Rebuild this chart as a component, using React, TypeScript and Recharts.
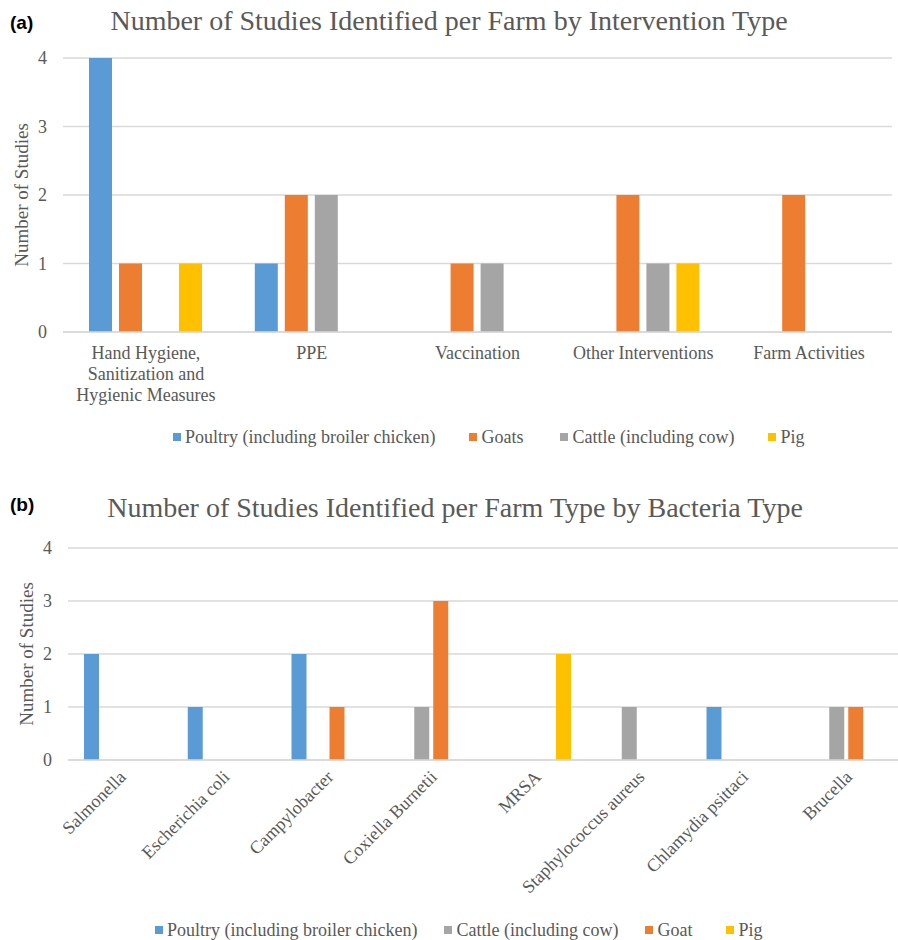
import React from "react";
import { BarChart, Bar, XAxis, YAxis, CartesianGrid, Legend, Label, Text } from "recharts";

const interventions = [
  "Hand Hygiene, Sanitization and Hygienic Measures",
  "PPE",
  "Vaccination",
  "Other Interventions",
  "Farm Activities",
];
const poultryA = [4, 1, 0, 0, 0];
const goatsA = [1, 2, 1, 2, 2];
const cattleA = [0, 2, 1, 1, 0];
const pigA = [1, 0, 0, 1, 0];

const bacteria = [
  "Salmonella",
  "Escherichia coli",
  "Campylobacter",
  "Coxiella Burnetii",
  "MRSA",
  "Staphylococcus aureus",
  "Chlamydia psittaci",
  "Brucella",
];
const poultryB = [2, 1, 2, 0, 0, 0, 1, 0];
const cattleB = [0, 0, 0, 1, 0, 1, 0, 1];
const goatB = [0, 0, 1, 3, 0, 0, 0, 1];
const pigB = [0, 0, 0, 0, 2, 0, 0, 0];

const yTicks = [0, 1, 2, 3, 4];

// series order as in each legend
const seriesA = ["poultry", "goats", "cattle", "pig"];
const seriesB = ["poultry", "cattle", "goat", "pig"];
const seriesNames: Record<string, string> = {
  poultry: "Poultry (including broiler chicken)",
  goats: "Goats",
  goat: "Goat",
  cattle: "Cattle (including cow)",
  pig: "Pig",
};

const dataA = interventions.map((name, i) => ({
  name,
  poultry: poultryA[i],
  goats: goatsA[i],
  cattle: cattleA[i],
  pig: pigA[i],
}));

const dataB = bacteria.map((name, i) => ({
  name,
  poultry: poultryB[i],
  cattle: cattleB[i],
  goat: goatB[i],
  pig: pigB[i],
}));

const COLORS: Record<string, string> = {
  poultry: "#5B9BD5",
  goats: "#ED7D31",
  goat: "#ED7D31",
  cattle: "#A5A5A5",
  pig: "#FFC000",
};
const TEXT = "#595959";
const GRID = "#D9D9D9";
const SERIF = '"Liberation Serif", "Times New Roman", serif';
const SANS = '"Liberation Sans", Arial, sans-serif';

const WrapTick = (props: any) => {
  const { x, y, payload } = props;
  return (
    <Text
      x={x}
      y={y}
      width={160}
      textAnchor="middle"
      verticalAnchor="start"
      lineHeight={21}
      fill={TEXT}
      style={{ fontSize: 18, fontFamily: SERIF }}
    >
      {payload.value}
    </Text>
  );
};

const SlantTick = (props: any) => {
  const { x, y, payload } = props;
  const ax = x + 7;
  const ay = y + 18;
  return (
    <text
      x={ax}
      y={ay}
      transform={`rotate(-45, ${ax}, ${ay})`}
      textAnchor="end"
      fill={TEXT}
      fontSize={18}
      fontFamily={SERIF}
    >
      {payload.value}
    </text>
  );
};

const AxisTitle = (props: any) => {
  const { viewBox, tx } = props;
  const cy = viewBox.y + viewBox.height / 2;
  return (
    <text
      x={tx}
      y={cy}
      transform={`rotate(-90, ${tx}, ${cy})`}
      textAnchor="middle"
      fill={TEXT}
      fontSize={19}
      fontFamily={SERIF}
    >
      Number of Studies
    </text>
  );
};

const LegendRow = (props: any) => {
  const { keys, gaps, left, height, top } = props;
  return (
    <div
      style={{
        display: "flex",
        alignItems: "flex-start",
        height,
        boxSizing: "border-box",
        paddingTop: top,
        paddingLeft: left,
        fontFamily: SERIF,
        fontSize: 18,
        color: TEXT,
        lineHeight: "18px",
      }}
    >
      {keys.map((k: string, i: number) => (
        <span key={k} style={{ display: "flex", alignItems: "center", marginRight: gaps[i] || 0 }}>
          <span style={{ width: 8, height: 8, background: COLORS[k], marginRight: 4 }} />
          {seriesNames[k]}
        </span>
      ))}
    </div>
  );
};

export default function App() {
  return (
    <div style={{ position: "absolute", left: 0, top: 0, width: 898, height: 940, background: "#fff" }}>
      <div style={{ position: "absolute", left: 0, top: 0 }}>
        <BarChart
          width={898}
          height={460}
          data={dataA}
          margin={{ top: 58, right: 6, bottom: 0, left: 0 }}
          barCategoryGap={26}
          barGap={7}
        >
          <CartesianGrid vertical={false} stroke={GRID} strokeWidth={1.3} />
          <XAxis
            dataKey="name"
            height={82}
            interval={0}
            tickLine={false}
            tickSize={0}
            tickMargin={14}
            axisLine={{ stroke: GRID, strokeWidth: 1.3 }}
            tick={<WrapTick />}
          />
          <YAxis
            width={63}
            domain={[0, 4]}
            ticks={yTicks}
            axisLine={false}
            tickLine={false}
            tickSize={0}
            tickMargin={16}
            tick={{ fill: TEXT, fontSize: 18, fontFamily: SERIF }}
          >
            <Label content={<AxisTitle tx={28} />} />
          </YAxis>
          <Legend
            verticalAlign="bottom"
            wrapperStyle={{ left: 0, width: 898 }}
            content={<LegendRow keys={seriesA} gaps={[34, 37, 34]} left={173} height={46} top={14} />}
          />
          {seriesA.map((k) => (
            <Bar key={k} dataKey={k} name={seriesNames[k]} fill={COLORS[k]} isAnimationActive={false} />
          ))}
        </BarChart>
      </div>
      <div style={{ position: "absolute", left: 0, top: 470 }}>
        <BarChart
          width={898}
          height={470}
          data={dataB}
          margin={{ top: 78, right: 0, bottom: 0, left: 0 }}
          barCategoryGap={16}
          barGap={4}
        >
          <CartesianGrid vertical={false} stroke={GRID} strokeWidth={1.3} />
          <XAxis
            dataKey="name"
            height={140}
            interval={0}
            tickLine={false}
            tickSize={0}
            tickMargin={0}
            axisLine={{ stroke: GRID, strokeWidth: 1.3 }}
            tick={<SlantTick />}
          />
          <YAxis
            width={68}
            domain={[0, 4]}
            ticks={yTicks}
            axisLine={false}
            tickLine={false}
            tickSize={0}
            tickMargin={16}
            tick={{ fill: TEXT, fontSize: 18, fontFamily: SERIF }}
          >
            <Label content={<AxisTitle tx={33} />} />
          </YAxis>
          <Legend
            verticalAlign="bottom"
            wrapperStyle={{ left: 0, width: 898 }}
            content={<LegendRow keys={seriesB} gaps={[27, 27, 34]} left={155} height={40} top={21} />}
          />
          {seriesB.map((k) => (
            <Bar key={k} dataKey={k} name={seriesNames[k]} fill={COLORS[k]} isAnimationActive={false} />
          ))}
        </BarChart>
      </div>
      <svg
        width={898}
        height={940}
        style={{ position: "absolute", left: 0, top: 0, pointerEvents: "none" }}
      >
        <text x={10} y={29} fontFamily={SANS} fontWeight="bold" fontSize={19} fill="#000">
          (a)
        </text>
        <text x={449} y={30} textAnchor="middle" fontFamily={SERIF} fontSize={28} fill={TEXT}>
          Number of Studies Identified per Farm by Intervention Type
        </text>
        <text x={10} y={511} fontFamily={SANS} fontWeight="bold" fontSize={19} fill="#000">
          (b)
        </text>
        <text x={455} y={517} textAnchor="middle" fontFamily={SERIF} fontSize={28} fill={TEXT}>
          Number of Studies Identified per Farm Type by Bacteria Type
        </text>
      </svg>
    </div>
  );
}
